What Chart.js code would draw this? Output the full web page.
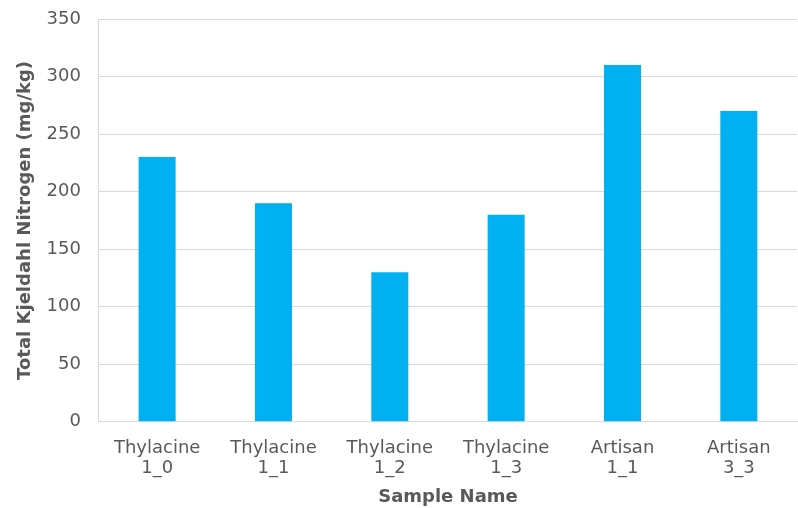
<!DOCTYPE html>
<html>
<head>
<meta charset="utf-8">
<script src="https://cdn.jsdelivr.net/npm/chart.js@4"></script>
<style>
  html, body { margin: 0; padding: 0; background: #fff; }
  #wrap { width: 798px; height: 508px; }
</style>
</head>
<body>
<div id="wrap"><canvas id="tknChart" width="798" height="508"></canvas></div>
<script>
const categories = [['Thylacine', '1_0'], ['Thylacine', '1_1'], ['Thylacine', '1_2'], ['Thylacine', '1_3'], ['Artisan', '1_1'], ['Artisan', '3_3']];
const tknValues = [230, 190, 130, 180, 310, 270];
const yTicks = [0, 50, 100, 150, 200, 250, 300, 350];

const font = 'DejaVu Sans';
const grey = '#595959';

const ctx = document.getElementById('tknChart').getContext('2d');
new Chart(ctx, {
    type: 'bar',
    data: {
        labels: categories,
        datasets: [{
            label: 'Total Kjeldahl Nitrogen',
            data: tknValues,
            backgroundColor: '#00B0F0',
            borderWidth: 0,
            barPercentage: 0.53,
            categoryPercentage: 0.6
        }]
    },
    options: {
        responsive: false,
        animation: false,
        layout: { padding: { top: 19, right: 1, bottom: 0, left: 15 } },
        scales: {
            x: {
                grid: { display: false, drawTicks: false },
                border: { display: true, color: '#d9d9d9', width: 1 },
                ticks: { color: grey, font: { family: font, size: 18, lineHeight: 1.1 }, padding: 17, maxRotation: 0 },
                title: { display: true, text: 'Sample Name', color: grey, font: { family: font, size: 18, weight: 'bold' }, padding: { top: -9, bottom: 0 } }
            },
            y: {
                min: 0,
                max: 350,
                afterBuildTicks: axis => { axis.ticks = yTicks.map(v => ({ value: v })); },
                afterFit: axis => { axis.paddingTop = 0; },
                grid: { color: '#d9d9d9', drawTicks: false },
                border: { display: true, color: '#d9d9d9' },
                ticks: { color: grey, font: { family: font, size: 18 }, padding: 18 },
                title: { display: true, text: 'Total Kjeldahl Nitrogen (mg/kg)', color: grey, font: { family: font, size: 18, weight: 'bold' }, padding: { top: 0, bottom: -8 } }
            }
        },
        plugins: {
            legend: { display: false },
            tooltip: { enabled: false }
        }
    }
});
</script>
</body>
</html>
